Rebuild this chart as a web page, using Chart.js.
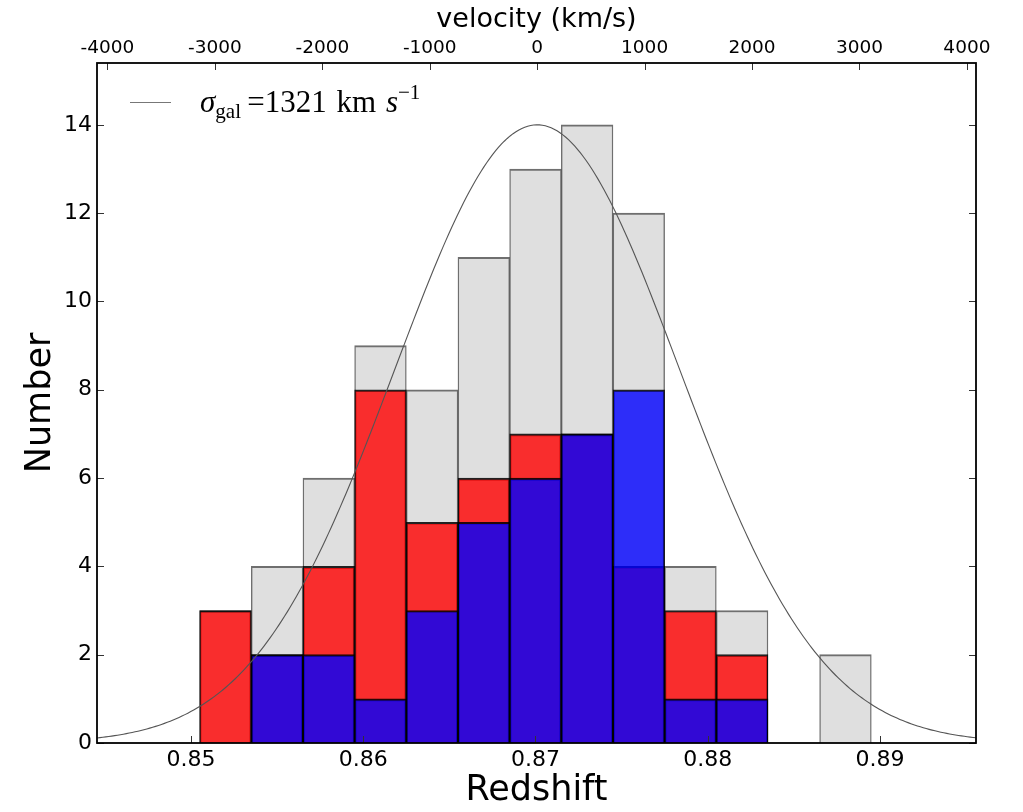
<!DOCTYPE html>
<html><head><meta charset="utf-8">
<script src="https://cdn.jsdelivr.net/npm/chart.js@4.4.1/dist/chart.umd.min.js"></script>
<style>
html,body{margin:0;padding:0;background:#fff;}
#wrap{position:relative;width:1023px;height:812px;overflow:hidden;}
#c{position:absolute;left:0;top:0;}
#swatch{position:absolute;left:130px;top:102px;width:41px;height:1px;background:#777;}
#legtext{position:absolute;left:200px;top:89px;font-family:"Liberation Serif",serif;font-size:31px;line-height:26px;color:#000;white-space:nowrap;word-spacing:2px;}
#legtext sub{font-size:0.68em;vertical-align:-0.3em;line-height:0;}
#legtext sup{font-size:0.68em;vertical-align:0.6em;line-height:0;}
</style></head><body>
<div id="wrap">
<canvas id="c" width="1023" height="812"></canvas>
<div id="swatch"></div>
<div id="legtext"><i>σ</i><sub>gal</sub>&thinsp;=1321 km <i>s</i><sup>−1</sup></div>
</div>
<script>
// ---- data ----
const binCenters = [0.852, 0.855, 0.858, 0.861, 0.864, 0.867, 0.870, 0.873, 0.876, 0.879, 0.882, 0.885, 0.888];
const allCounts  = [3, 4, 6, 9, 8, 11, 13, 14, 12, 4, 3, 0, 2];
const redCounts  = [3, 2, 4, 8, 5, 6, 7, 7, 4, 3, 2, 0, 0];
const blueCounts = [0, 2, 2, 1, 3, 5, 6, 7, 8, 1, 1, 0, 0];
const yTicks = [0, 2, 4, 6, 8, 10, 12, 14];
const zTicks = [0.85, 0.86, 0.87, 0.88, 0.89];
const vTicks = [-4000, -3000, -2000, -1000, 0, 1000, 2000, 3000, 4000];
const zRange = [0.84454, 0.89558];
const yRange = [0, 15.4];
// Gaussian model shown in the legend
const clusterZ = 0.8701;
const sigmaGal = 1321;   // km/s
const gaussPeak = 14;
const cLight = 299792.458;

// ---- derived ----
const vMin = cLight * (zRange[0] - clusterZ) / (1 + clusterZ);
const vMax = cLight * (zRange[1] - clusterZ) / (1 + clusterZ);
const sigmaZ = sigmaGal * (1 + clusterZ) / cLight;
const gaussPts = [];
const nSamp = 300;
for (let i = 0; i <= nSamp; i++) {
  const z = zRange[0] + (zRange[1] - zRange[0]) * i / nSamp;
  gaussPts.push({x: z, y: gaussPeak * Math.exp(-0.5 * Math.pow((z - clusterZ) / sigmaZ, 2))});
}
const toPts = arr => binCenters.map((x, i) => ({x: x, y: arr[i] > 0 ? arr[i] : null}));

const FONT = "DejaVu Sans";
const barCommon = {
  type: 'bar', grouped: false, barPercentage: 1, categoryPercentage: 1,
  borderSkipped: false, borderWidth: {top: 2, left: 1.4, right: 1.4, bottom: 0},
  xAxisID: 'x', yAxisID: 'y'
};

const framePlugin = {
  id: 'frame',
  afterDatasetsDraw(chart) {
    const {ctx, chartArea: a, scales} = chart;
    ctx.save();
    ctx.strokeStyle = '#333';
    ctx.lineWidth = 1;
    ctx.beginPath();
    scales.x.ticks.forEach(t => { const p = Math.round(scales.x.getPixelForValue(t.value)) + 0.5; ctx.moveTo(p, a.bottom); ctx.lineTo(p, a.bottom - 7); });
    scales.x2.ticks.forEach(t => { const p = Math.round(scales.x2.getPixelForValue(t.value)) + 0.5; ctx.moveTo(p, a.top); ctx.lineTo(p, a.top + 7); });
    scales.y.ticks.forEach(t => { const p = Math.round(scales.y.getPixelForValue(t.value)) + 0.5; ctx.moveTo(a.left, p); ctx.lineTo(a.left + 7, p); ctx.moveTo(a.right, p); ctx.lineTo(a.right - 7, p); });
    ctx.stroke();
    ctx.strokeStyle = '#000';
    ctx.lineWidth = 1.8;
    ctx.strokeRect(a.left, a.top, a.right - a.left, a.bottom - a.top);
    ctx.restore();
  }
};

new Chart(document.getElementById('c'), {
  type: 'bar',
  data: {
    datasets: [
      {type: 'line', data: gaussPts, borderColor: '#555', borderWidth: 1.1, pointRadius: 0, tension: 0, order: 0, xAxisID: 'x', yAxisID: 'y'},
      Object.assign({}, barCommon, {data: toPts(blueCounts), backgroundColor: 'rgba(0,0,255,0.8)', borderColor: 'rgba(0,0,0,0.85)', order: 1}),
      Object.assign({}, barCommon, {data: toPts(redCounts), backgroundColor: 'rgba(255,0,0,0.8)', borderColor: 'rgba(0,0,0,0.85)', order: 2}),
      Object.assign({}, barCommon, {data: toPts(allCounts), backgroundColor: '#dfdfdf', borderColor: 'rgba(50,50,50,0.7)', order: 3})
    ]
  },
  options: {
    responsive: false,
    animation: false,
    devicePixelRatio: 1,
    layout: {padding: {left: 0, right: 47, top: 0, bottom: 0}},
    plugins: {legend: {display: false}, tooltip: {enabled: false}},
    scales: {
      x: {
        type: 'linear', position: 'bottom', min: zRange[0], max: zRange[1], offset: false,
        grid: {display: false, drawTicks: false}, border: {display: false},
        afterBuildTicks: s => { s.ticks = zTicks.map(v => ({value: v})); },
        afterFit: s => { s.height = 69; },
        ticks: {padding: 4, font: {family: FONT, size: 22}, color: '#000', maxRotation: 0, autoSkip: false,
          callback: v => Number(v).toFixed(2)},
        title: {display: true, text: 'Redshift', font: {family: FONT, size: 35}, color: '#000', padding: {top: 0, bottom: 0}}
      },
      x2: {
        type: 'linear', position: 'top', min: vMin, max: vMax, offset: false,
        grid: {display: false, drawTicks: false}, border: {display: false},
        afterBuildTicks: s => { s.ticks = vTicks.map(v => ({value: v})); },
        afterFit: s => { s.height = 63; },
        ticks: {padding: 4, font: {family: FONT, size: 18.5}, color: '#000', maxRotation: 0, autoSkip: false,
          callback: v => String(Math.round(v))},
        title: {display: true, text: 'velocity (km/s)', font: {family: FONT, size: 27}, color: '#000', padding: {top: 4, bottom: 0}}
      },
      y: {
        type: 'linear', position: 'left', min: yRange[0], max: yRange[1],
        grid: {display: false, drawTicks: false}, border: {display: false},
        afterBuildTicks: s => { s.ticks = yTicks.map(v => ({value: v})); },
        afterFit: s => { s.width = 97; },
        ticks: {padding: 5, font: {family: FONT, size: 22}, color: '#000', callback: v => String(v)},
        title: {display: true, text: 'Number', font: {family: FONT, size: 35}, color: '#000', padding: {top: 20, bottom: 0}}
      }
    }
  },
  plugins: [framePlugin]
});
</script>
</body></html>
